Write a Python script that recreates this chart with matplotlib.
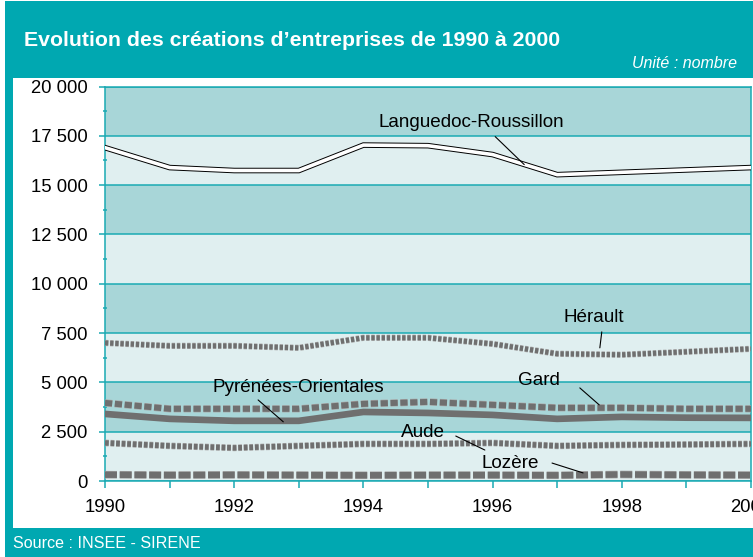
import matplotlib
matplotlib.use("Agg")
import matplotlib.pyplot as plt
import matplotlib.patheffects as pe
from matplotlib.patches import Rectangle
from matplotlib.ticker import MultipleLocator, FuncFormatter

plt.rcParams['font.family'] = ['Liberation Sans', 'DejaVu Sans']
plt.rcParams['lines.scale_dashes'] = False

# Données : créations d'entreprises par an
years = [1990, 1991, 1992, 1993, 1994, 1995, 1996, 1997, 1998, 1999, 2000]
languedoc_roussillon = [16900, 15890, 15740, 15740, 17030, 17000, 16550, 15530, 15650, 15770, 15890]
herault = [7000, 6850, 6850, 6750, 7260, 7260, 6950, 6450, 6400, 6550, 6700]
gard = [3960, 3660, 3660, 3660, 3910, 4010, 3860, 3710, 3710, 3660, 3660]
pyrenees_orientales = [3400, 3150, 3050, 3050, 3500, 3450, 3350, 3150, 3250, 3210, 3200]
aude = [1930, 1780, 1680, 1780, 1880, 1880, 1930, 1780, 1830, 1850, 1880]
lozere = [320, 300, 310, 300, 290, 300, 300, 290, 330, 310, 300]

series_labels = ["Languedoc-Roussillon", "Hérault", "Gard", "Pyrénées-Orientales", "Aude", "Lozère"]
y_ticks = [0, 2500, 5000, 7500, 10000, 12500, 15000, 17500, 20000]
x_labels = [1990, 1992, 1994, 1996, 1998, 2000]

TEAL = '#00a8b1'
GRID = '#1aaab3'
BAND_DARK = '#a8d6d8'
BAND_LIGHT = '#e0eff0'
GREY = '#6f6f6f'
HALO = '#a9a9a9'

W, H = 753, 557
fig = plt.figure(figsize=(W / 100, H / 100), dpi=100)
fig.patch.set_facecolor('white')

# cadre turquoise et panneau blanc
fig.add_artist(Rectangle((5 / W, 0), 1 - 5 / W, 1 - 1 / H, transform=fig.transFigure,
                         facecolor=TEAL, edgecolor='none', zorder=0))
fig.add_artist(Rectangle((13 / W, (H - 528) / H), 1 - 13 / W, (528 - 78) / H,
                         transform=fig.transFigure, facecolor='white', edgecolor='none', zorder=0))

fig.text(24 / W, 1 - 40 / H, "Evolution des créations d’entreprises de 1990 à 2000",
         color='white', fontsize=15.3, fontweight='bold', ha='left', va='center')
fig.text(737 / W, 1 - 63 / H, "Unité : nombre", color='white', fontsize=11.5,
         style='italic', ha='right', va='center')
fig.text(13 / W, 1 - 543 / H, "Source : INSEE - SIRENE", color='white', fontsize=11.6,
         ha='left', va='center')

ax = fig.add_axes([105 / W, (H - 481) / H, 646 / W, (481 - 86.5) / H])
ax.set_xlim(years[0], years[-1])
ax.set_ylim(y_ticks[0], y_ticks[-1])

# bandes alternées
for i in range(len(y_ticks) - 1):
    color = BAND_LIGHT if i % 2 == 0 else BAND_DARK
    ax.axhspan(y_ticks[i], y_ticks[i + 1], facecolor=color, edgecolor='none', zorder=0.1)

ax.set_axisbelow(True)
ax.yaxis.grid(True, color=GRID, linewidth=1.1)
for s in ax.spines.values():
    s.set_color(GRID)
    s.set_linewidth(1.1)

ax.set_yticks(y_ticks)
ax.yaxis.set_minor_locator(MultipleLocator(1250))
ax.yaxis.set_major_formatter(FuncFormatter(lambda v, p: f"{int(v):,}".replace(",", " ")))
ax.set_xticks(x_labels)
ax.set_xticks(years, minor=True)
ax.tick_params(axis='both', which='major', colors=GRID, labelcolor='black',
               labelsize=13.3, width=1.1)
ax.tick_params(axis='y', which='major', length=4.5, pad=8)
ax.tick_params(axis='x', which='major', length=5, pad=8)
ax.tick_params(axis='y', which='minor', direction='inout', length=3, colors=GRID, width=1.1)
ax.tick_params(axis='x', which='minor', length=5, colors=GRID, width=1.1)
for lab in ax.get_xticklabels():
    lab.set_clip_on(False)

# séries
ax.plot(years, languedoc_roussillon, color='white', linewidth=2.6, zorder=5,
        solid_joinstyle='miter',
        path_effects=[pe.Stroke(linewidth=4.0, foreground='black'), pe.Normal()])

def dashed(values, lw, dashes):
    ax.plot(years, values, color=GREY, linewidth=lw, dashes=dashes, dash_capstyle='butt',
            zorder=4, path_effects=[pe.Stroke(linewidth=lw + 0.9, foreground=HALO), pe.Normal()])

dashed(herault, 3.6, (2.4, 1.3))
dashed(gard, 4.3, (5.2, 1.9))
ax.plot(years, pyrenees_orientales, color=GREY, linewidth=4.8, zorder=4,
        solid_joinstyle='round')
dashed(aude, 3.9, (2.7, 1.3))
dashed(lozere, 4.6, (8.6, 2.0))

# étiquettes des séries avec traits de rappel
labels = [
    (series_labels[0], (1995.67, 18170), (1996.04, 17460), (1996.49, 16040)),
    (series_labels[1], (1997.57, 8270), (1997.69, 7560), (1997.66, 6750)),
    (series_labels[2], (1996.72, 5080), (1997.35, 4720), (1997.65, 3860)),
    (series_labels[3], (1993.00, 4720), (1992.37, 4110), (1992.76, 3000)),
    (series_labels[4], (1994.92, 2440), (1995.43, 2280), (1995.88, 1570)),
    (series_labels[5], (1996.27, 910), (1996.92, 910), (1997.40, 410)),
]
for text, tpos, start, end in labels:
    ax.text(tpos[0], tpos[1], text, fontsize=13.6, ha='center', va='center', zorder=7)
    ax.annotate('', xy=end, xytext=start,
                arrowprops=dict(arrowstyle='-', color='black', lw=0.8, shrinkA=0, shrinkB=0),
                zorder=7)

fig.savefig('out.png', dpi=100)
